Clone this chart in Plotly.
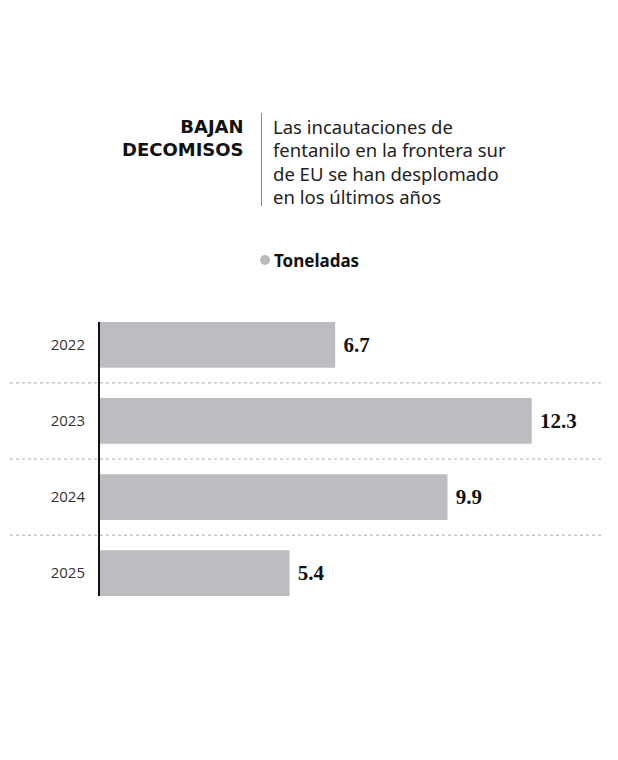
import plotly.graph_objects as go

# datos
anios = ["2022", "2023", "2024", "2025"]
toneladas = [6.7, 12.3, 9.9, 5.4]
etiquetas = ["6.7", "12.3", "9.9", "5.4"]

titulo = "BAJAN<br>DECOMISOS"
subtitulo = ["Las incautaciones de", "fentanilo en la frontera sur",
             "de EU se han desplomado", "en los últimos años"]
serie = "Toneladas"

# la página añade 8px de margen al cuerpo
OFF = 8
W, H = 618 - OFF, 760 - OFF
L, R, T, B = 100 - OFF, 14, 322 - OFF, 164


def px_x(x):
    return (x - OFF - L) / (W - L - R)


def px_y(y):
    return (H - B - (y - OFF)) / (H - T - B)


fig = go.Figure()
fig.add_trace(go.Bar(
    x=toneladas, y=anios, orientation="h",
    marker=dict(color="#bcbdc0", line=dict(width=0)),
    width=0.6,
    text=[" <b>%s</b>" % t for t in etiquetas],
    textposition="outside",
    textfont=dict(family="Liberation Serif", size=21, color="#111"),
    cliponaxis=False,
    hoverinfo="skip",
))

# líneas punteadas entre categorías
for yy in [0.5, 1.5, 2.5]:
    fig.add_shape(type="line", xref="paper", yref="y",
                  x0=px_x(10), x1=px_x(604), y0=yy, y1=yy,
                  line=dict(color="#a8a8a8", width=1, dash="dot"))

# línea vertical del encabezado
fig.add_shape(type="line", xref="paper", yref="paper",
              x0=px_x(261.5), x1=px_x(261.5), y0=px_y(113), y1=px_y(206),
              line=dict(color="#888", width=1))

# punto gris de la leyenda
fig.add_shape(type="circle", xref="paper", yref="paper",
              x0=px_x(260), x1=px_x(270), y0=px_y(265), y1=px_y(255),
              fillcolor="#bbbbbb", line=dict(width=0))

fig.add_annotation(text="<b>" + titulo + "</b>", xref="paper", yref="paper",
                   x=px_x(246), y=px_y(114), xanchor="right", yanchor="top",
                   align="right", showarrow=False,
                   font=dict(family="DejaVu Sans", size=18, color="#111"))

for i, linea in enumerate(subtitulo):
    fig.add_annotation(text=linea, xref="paper", yref="paper",
                       x=px_x(271), y=px_y(126 + 23.5 * i), xanchor="left", yanchor="middle",
                       align="left", showarrow=False,
                       font=dict(family="Noto Sans", size=18.5, color="#222"))

fig.add_annotation(text="<b>" + serie + "</b>",
                   xref="paper", yref="paper", x=px_x(272), y=px_y(260),
                   xanchor="left", yanchor="middle", showarrow=False,
                   font=dict(family="Noto Sans", size=17, color="#111"))

fig.update_layout(
    width=W, height=H,
    margin=dict(l=L, r=R, t=T, b=B),
    paper_bgcolor="white", plot_bgcolor="white",
    showlegend=False,
    bargap=0.4,
    xaxis=dict(range=[0, (W - L - R) / 35.1], visible=False, fixedrange=True),
    yaxis=dict(type="category", range=[3.3, -0.3], showline=True, linecolor="#111",
               linewidth=2, showgrid=False, zeroline=False, ticks="",
               ticklabelstandoff=10,
               tickfont=dict(family="Open Sans", size=15, color="#333")),
)

fig.write_html("out.html")
